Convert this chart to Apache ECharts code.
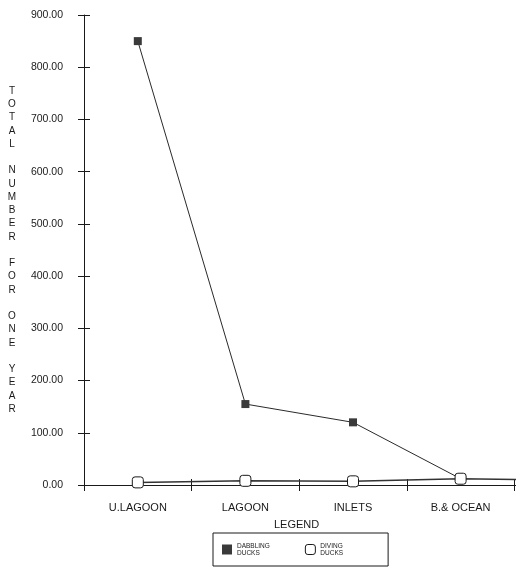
<!DOCTYPE html>
<html>
<head>
<meta charset="utf-8">
<style>
  html, body { margin: 0; padding: 0; background: #fff; }
  #chart { width: 516px; height: 568px; }
</style>
<script src="https://cdn.jsdelivr.net/npm/echarts@6/dist/echarts.min.js"></script>
</head>
<body>
<div id="chart"></div>
<script>
// Sites along the lagoon; the last band continues past the right edge
const sites = ['U.LAGOON', 'LAGOON', 'INLETS', 'B.& OCEAN', ''];
// Total number of birds for one year at each site
const dabblingDucks = [850, 155, 120, 12, null];
const divingDucks = [5, 8, 7, 12, 9];
const yMin = 0, yMax = 900, yStep = 100;
const axisTitle = 'TOTAL NUMBER FOR ONE YEAR';

const FONT = 'Liberation Sans, Arial, sans-serif';
const INK = '#1a1a1a';

// Stack the axis title letter by letter, a blank line between words
const stackedTitle = axisTitle.split(' ').map(w => w.split('').join('\n')).join('\n\n');

const chart = echarts.init(document.getElementById('chart'));

const sharedY = { type: 'value', min: yMin, max: yMax, interval: yStep, splitLine: { show: false } };
const sharedX = { type: 'category', data: sites, boundaryGap: true, position: 'bottom' };

chart.setOption({
  animation: false,
  backgroundColor: '#fff',
  textStyle: { fontFamily: FONT, color: INK },
  // the plot runs on past the right border of the page
  grid: { left: 84, width: 538, top: 15, height: 470, outerBoundsMode: 'none', containLabel: false },
  xAxis: [
    Object.assign({}, sharedX, {
      axisLine: { lineStyle: { color: INK, width: 1 } },
      axisTick: { show: true, length: 6, lineStyle: { color: INK } },
      axisLabel: { color: INK, fontSize: 11, margin: 17, fontFamily: FONT }
    }),
    Object.assign({}, sharedX, {
      axisLine: { show: false },
      axisTick: { show: true, inside: true, length: 6, lineStyle: { color: INK } },
      axisLabel: { show: false }
    })
  ],
  yAxis: [
    Object.assign({}, sharedY, {
      axisLine: { show: true, lineStyle: { color: INK, width: 1 } },
      axisTick: { show: true, length: 6, lineStyle: { color: INK } },
      axisLabel: {
        color: INK, fontSize: 10.5, margin: 21, fontFamily: FONT,
        formatter: v => v.toFixed(2)
      },
      name: stackedTitle,
      nameLocation: 'middle',
      nameRotate: 0,
      nameGap: 72,
      nameTextStyle: { color: INK, fontSize: 10, lineHeight: 13.25, align: 'center', fontFamily: FONT }
    }),
    Object.assign({}, sharedY, {
      position: 'left',
      axisLine: { show: false },
      axisTick: { show: true, inside: true, length: 6, lineStyle: { color: INK } },
      axisLabel: { show: false }
    })
  ],
  legend: {
    left: 213,
    top: 533,
    orient: 'horizontal',
    borderColor: INK,
    borderWidth: 1,
    padding: [9, 45, 9, 9],
    itemGap: 35,
    itemWidth: 10,
    itemHeight: 10,
    textStyle: { fontSize: 6.5, lineHeight: 7.5, color: INK, fontFamily: FONT },
    formatter: n => n.replace(' ', '\n'),
    data: [
      { name: 'DABBLING DUCKS', icon: 'rect', itemStyle: { color: '#3a3a3a', borderWidth: 0 } },
      { name: 'DIVING DUCKS', icon: 'roundRect', itemStyle: { color: '#fff', borderColor: INK, borderWidth: 1 } }
    ]
  },
  graphic: [
    {
      type: 'text',
      left: 274,
      top: 519,
      style: { text: 'LEGEND', font: '11px ' + FONT, fill: INK }
    }
  ],
  series: [
    {
      name: 'DIVING DUCKS',
      type: 'line',
      data: divingDucks,
      symbol: 'roundRect',
      symbolSize: 11,
      lineStyle: { color: '#333', width: 1.5 },
      itemStyle: { color: '#fff', borderColor: INK, borderWidth: 1 },
      z: 3
    },
    {
      name: 'DABBLING DUCKS',
      type: 'line',
      data: dabblingDucks,
      symbol: 'rect',
      symbolSize: 8,
      lineStyle: { color: '#2a2a2a', width: 1 },
      itemStyle: { color: '#3a3a3a', borderWidth: 0 },
      z: 2
    }
  ]
});
</script>
</body>
</html>
